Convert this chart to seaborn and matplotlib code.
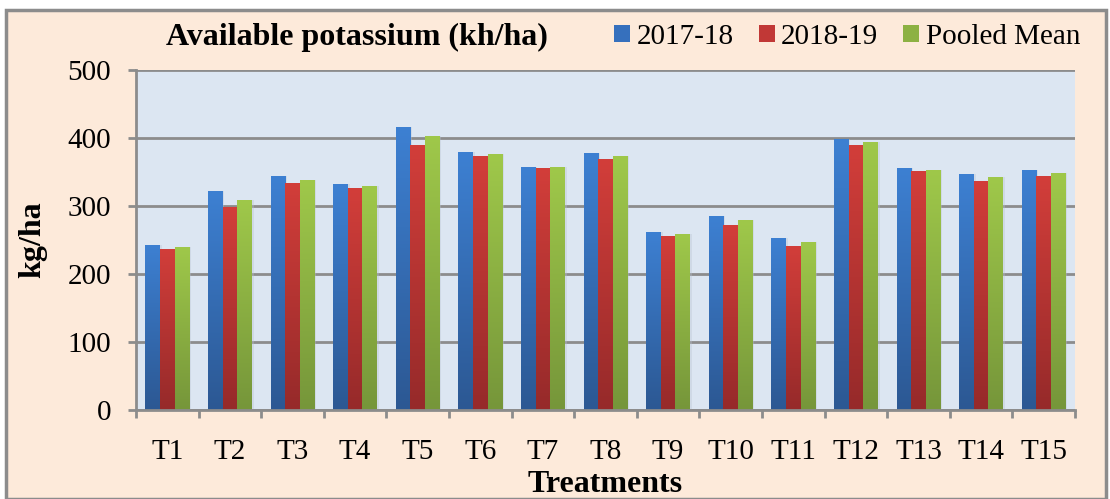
import numpy as np
import pandas as pd
import matplotlib
matplotlib.use("Agg")
import matplotlib.pyplot as plt
import matplotlib.patches as mpatches
from matplotlib.colors import LinearSegmentedColormap
import seaborn as sns

treatments = ["T1", "T2", "T3", "T4", "T5", "T6", "T7", "T8", "T9", "T10",
              "T11", "T12", "T13", "T14", "T15"]
y2017_18 = [243, 322, 344, 332, 416, 379, 357, 378, 262, 285, 253, 398, 356, 347, 353]
y2018_19 = [237, 298, 334, 326, 390, 373, 356, 369, 256, 272, 241, 390, 351, 337, 344]
pooled   = [240, 309, 338, 329, 403, 376, 357, 373, 259, 279, 247, 394, 353, 342, 348]
series_names = ["2017-18", "2018-19", "Pooled Mean"]
yticks = [0, 100, 200, 300, 400, 500]

mid_cols = ["#3670BD", "#C13836", "#8DB143"]
top_cols = ["#3D80D2", "#D23E3A", "#9FC84A"]
bot_cols = ["#2C5893", "#962A2A", "#76963A"]

df = pd.DataFrame({
    "Treatment": treatments * 3,
    "Series": sum([[s] * len(treatments) for s in series_names], []),
    "Value": y2017_18 + y2018_19 + pooled,
})

sns.set_theme(style="white")
plt.rcParams["font.family"] = ["Liberation Serif", "DejaVu Serif"]
plt.rcParams["text.color"] = "black"
plt.rcParams["xtick.color"] = "black"
plt.rcParams["ytick.color"] = "black"

FS = 21
FSB = 23
W, H = 1110, 499
fig = plt.figure(figsize=(W / 100, H / 100), dpi=100, facecolor="white")
# outer peach frame
frame = mpatches.Rectangle((6 / W, 0), (W - 10) / W, (H - 10) / H,
                           transform=fig.transFigure, facecolor="#FDEADA",
                           edgecolor="#8C8C8C", linewidth=2.5, zorder=-10)
fig.add_artist(frame)

ax = fig.add_axes([136 / W, 1 - 410 / H, (1075 - 136) / W, 340 / H])
ax.set_zorder(1)
ax.set_facecolor("#DCE6F2")

sns.barplot(data=df, x="Treatment", y="Value", hue="Series", palette=mid_cols,
            width=0.7, ax=ax, saturation=1, legend=True, linewidth=0)

# gradient fills
nT = len(treatments)
bars = list(ax.patches[:3 * nT])
for i, patch in enumerate(bars):
    si = i // nT
    x0, y0 = patch.get_x(), patch.get_y()
    w, h = patch.get_width(), patch.get_height()
    cmap = LinearSegmentedColormap.from_list("g%d" % si, [bot_cols[si], top_cols[si]])
    grad = np.linspace(1, 0, 100).reshape(-1, 1)
    ax.add_patch(mpatches.Rectangle((x0 + w * 0.12, y0), w, h, facecolor="#B8C2D0",
                                    alpha=0.35, edgecolor="none", zorder=1.5))
    im = ax.imshow(grad, cmap=cmap, aspect="auto", extent=[x0, x0 + w, y0, y0 + h],
                   zorder=2.5, interpolation="bicubic")
    im.set_clip_path(patch)
    patch.set_zorder(2)

ax.set_xlim(-0.5, nT - 0.5)
ax.set_ylim(0, 500)
ax.set_yticks(yticks)
ax.yaxis.grid(True, color="#8C8C8C", linewidth=2)
ax.set_axisbelow(True)
for s in ["top", "right"]:
    ax.spines[s].set_visible(False)
for s in ["left", "bottom"]:
    ax.spines[s].set_color("#8C8C8C")
    ax.spines[s].set_linewidth(2)
    ax.spines[s].set_zorder(3)

ax.tick_params(axis="y", which="major", direction="out", length=6, width=2,
               color="#8C8C8C", labelsize=FS, pad=12, left=True, labelcolor="black")
ax.tick_params(axis="x", which="major", length=0, labelsize=FS, pad=21, labelcolor="black")
ax.set_xticks(np.arange(-0.5, nT, 1.0), minor=True)
ax.tick_params(axis="x", which="minor", direction="out", length=6, width=2,
               color="#8C8C8C", bottom=True)

ax.set_xlabel("")
ax.set_ylabel("")
fig.text(33 / W, 1 - 240 / H, "kg/ha", rotation=90, ha="center", va="center",
         fontsize=FSB, fontweight="bold", color="black")
fig.text(605 / W, 1 - 485 / H, "Treatments", ha="center", va="center",
         fontsize=FSB, fontweight="bold", color="black")
fig.text(357 / W, 1 - 37 / H, "Available potassium (kh/ha)", ha="center", va="center",
         fontsize=FSB, fontweight="bold", color="black")

handles = [mpatches.Patch(facecolor=c, edgecolor="none") for c in mid_cols]
ax.legend(handles, series_names, loc="center right", ncol=3, frameon=False,
          bbox_to_anchor=(1080 / W, 1 - 37 / H), bbox_transform=fig.transFigure,
          fontsize=FS, handlelength=0.55, handleheight=0.55, handletextpad=0.22,
          columnspacing=0.85, borderaxespad=0, borderpad=0)

fig.savefig("out.png", dpi=100, facecolor=fig.get_facecolor())
